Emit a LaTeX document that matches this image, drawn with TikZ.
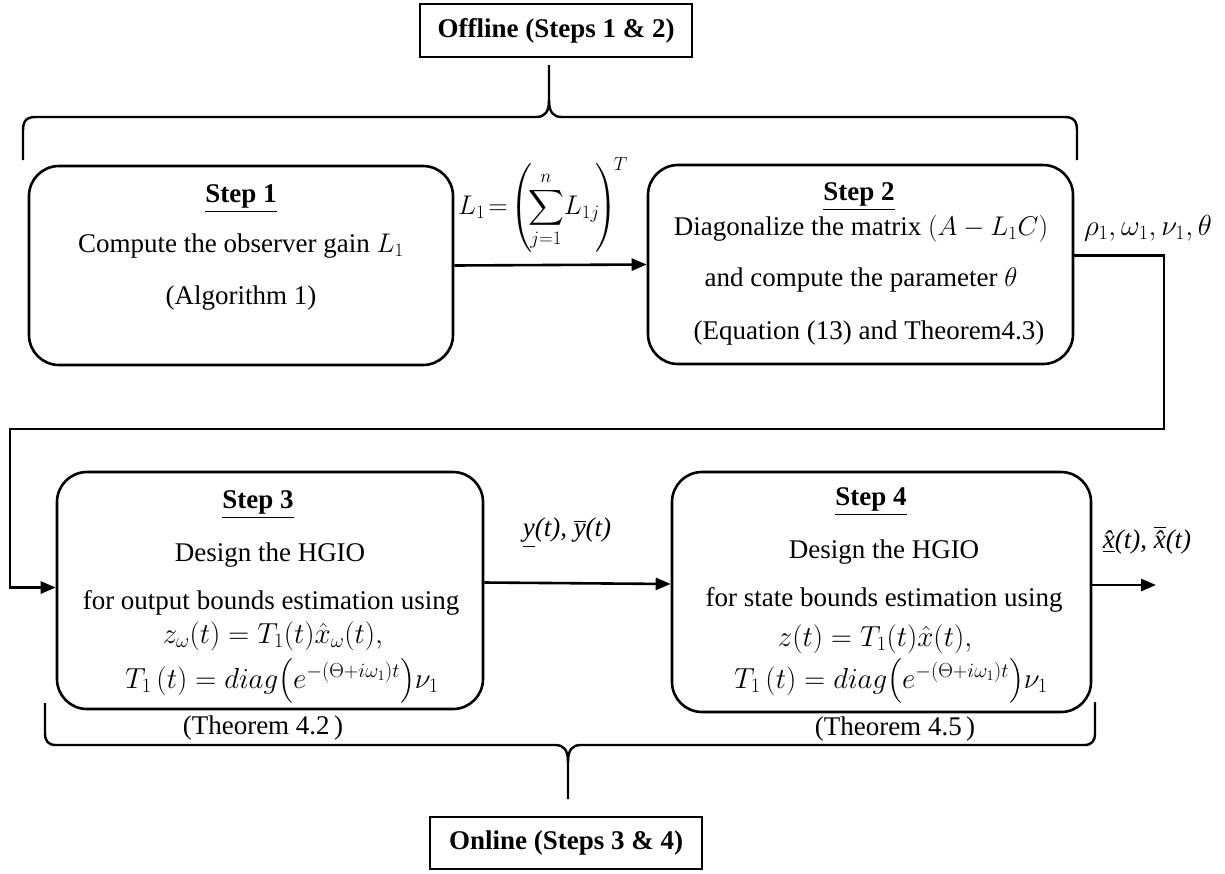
\RequirePackage{fix-cm}
\documentclass[tikz,border=0pt]{standalone}
\usepackage{amsmath}
\usepackage{exscale}
\usepackage{fontspec}
\setmainfont{Liberation Serif}
\usetikzlibrary{arrows.meta,calc}
\tikzset{
  stepbox/.style={draw, line width=2.6pt, rounded corners=30pt, inner sep=0pt},
  lbl/.style={inner sep=0pt, font=\fontsize{27}{32}\selectfont},
  mth/.style={inner sep=0pt, font=\fontsize{29}{34}\selectfont},
  ttl/.style={inner sep=0pt, font=\bfseries\fontsize{27}{32}\selectfont},
  phasebox/.style={draw, line width=2.8pt, inner sep=0pt, font=\bfseries\fontsize{27}{32}\selectfont},
  arr/.style={line width=2.6pt, -{Triangle[length=15pt,width=12pt]}},
  brace/.style={line width=2.4pt},
}
\begin{document}
\begin{tikzpicture}[x=1pt,y=-1pt]
\useasboundingbox (0,0) rectangle (1225,873);

% phase boxes
\node[phasebox, minimum width=272pt, minimum height=53pt] (off) at (556,30.5) {Offline (Steps 1 \& 2)};
\node[phasebox, minimum width=272pt, minimum height=52pt] (on) at (566,843) {Online (Steps 3 \& 4)};

% step boxes
\node[stepbox, minimum width=424pt, minimum height=199pt] (s1) at (241,265.5) {};
\node[stepbox, minimum width=425pt, minimum height=199pt] (s2) at (860.5,264.5) {};
\node[stepbox, minimum width=426pt, minimum height=237pt] (s3) at (270,590.5) {};
\node[stepbox, minimum width=419pt, minimum height=240pt] (s4) at (881.5,592) {};

% step 1 texts
\node[ttl] (s1a) at (241,199) {\underline{Step 1}};
\node[lbl] (s1b) at (241,246) {Compute the observer gain $L_1$};
\node[lbl] (s1c) at (241,298) {(Algorithm 1)};

% step 2 texts
\node[ttl] (s2a) at (859,197) {\underline{Step 2}};
\node[lbl] (s2b) at (861,229) {Diagonalize the matrix $(A-L_1C)$};
\node[lbl] (s2c) at (861,280) {and compute the parameter $\theta$};
\node[lbl] (s2d) at (869,333) {(Equation (13) and Theorem4.3)};

% step 3 texts
\node[ttl] (s3a) at (258,505) {\underline{Step 3}};
\node[lbl] (s3b) at (270,555) {Design the HGIO};
\node[lbl] (s3c) at (271,603) {for output bounds estimation using};
\node[mth] (s3d) at (273,636) {$z_{\omega}(t)=T_1(t)\hat{x}_{\omega}(t),$};
\node[mth] (s3e) at (282,681) {$T_1\,(t)=diag\big(e^{-(\Theta+i\omega_1)t}\big)\nu_1$};
\node[lbl] (th2) at (263,728) {(Theorem 4.2\,)};

% step 4 texts
\node[ttl] (s4a) at (871,502) {\underline{Step 4}};
\node[lbl] (s4b) at (884,552) {Design the HGIO};
\node[lbl] (s4c) at (884,600) {for state bounds estimation using};
\node[mth] (s4d) at (875,639) {$z(t)=T_1(t)\hat{x}(t),$};
\node[mth] (s4e) at (891,681) {$T_1\,(t)=diag\big(e^{-(\Theta+i\omega_1)t}\big)\nu_1$};
\node[lbl] (th5) at (895,729) {(Theorem 4.5\,)};

% connector labels
\node[lbl] (lL) at (543,205) {$\displaystyle L_1\!=\!\left(\!\sum_{j=1}^{n}\!L_{1j}\!\right)^{\!T}$};
\node[mth] (lrho) at (1148,228) {$\rho_1,\omega_1,\nu_1,\theta$};
\node[lbl] (ly) at (567,533) {\itshape\underline{y}(t), $\overline{\hbox{\itshape y}}$(t)};
\node[lbl] (lx) at (1147,540) {\itshape\underline{\^{x}}(t), $\overline{\hbox{\itshape\^{x}}}$(t)};

% connectors
\coordinate (r1) at (1164,429);
\coordinate (r2) at (10,429);
\coordinate (out) at (1156,585);
\draw[arr] (s1.east) -- (s2.west);
\draw[arr] ($(s2.east)+(0,-9)$) -| (r1) -- (r2) |- ($(s3.west)+(0,-3)$);
\draw[arr] ($(s3.east)+(0,-8)$) -- ($(s4.west)+(0,-8)$);
\draw[arr] ($(s4.east)+(0,-7)$) -- (out);

% top brace
\draw[brace] (23,160) -- (23,131) .. controls (23,121) and (26,117) .. (36,117)
  -- (536,117) .. controls (545,117) and (549,112) .. (549,100) -- (549,65);
\draw[brace] (1077,160) -- (1077,131) .. controls (1077,121) and (1074,117) .. (1064,117)
  -- (562,117) .. controls (553,117) and (549,112) .. (549,100);

% bottom brace
\draw[brace] (45,703) -- (45,733) .. controls (45,741) and (48,745) .. (56,745)
  -- (555,745) .. controls (564,745) and (568,750) .. (568,762) -- (568,799);
\draw[brace] (1095,702) -- (1095,733) .. controls (1095,741) and (1092,745) .. (1084,745)
  -- (581,745) .. controls (572,745) and (568,750) .. (568,762);
\end{tikzpicture}
\end{document}
